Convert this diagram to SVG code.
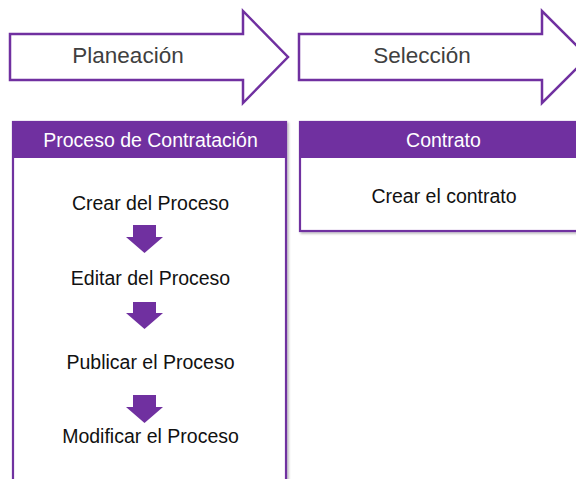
<svg xmlns="http://www.w3.org/2000/svg" width="576" height="479" viewBox="0 0 576 479">
<defs>
<style>
.phase{fill:#ffffff;stroke:#7030A0;stroke-width:2.5;stroke-linejoin:miter}
.phase-t{font-family:"Liberation Sans",Arial,sans-serif;font-size:22.5px;fill:#404040;text-anchor:middle}
.box{fill:#ffffff;stroke:#7030A0;stroke-width:2.2}
.hdr{fill:#7030A0}
.hdr-t{font-family:"Liberation Sans",Arial,sans-serif;font-size:19.5px;fill:#ffffff;text-anchor:middle}
.item{font-family:"Liberation Sans",Arial,sans-serif;font-size:19.5px;fill:#111111;text-anchor:middle}
.down{fill:#7030A0}
</style>
<filter id="sh" x="-10%" y="-10%" width="120%" height="120%">
<feDropShadow dx="1.5" dy="1.5" stdDeviation="1.2" flood-color="#000000" flood-opacity="0.3"/>
</filter>
</defs>
<g id="phase-planeacion">
<polygon class="phase" points="10,34 243,34 243,11 288,57 243,103 243,80 10,80"/>
<text class="phase-t" x="128" y="63">Planeación</text>
</g>
<g id="phase-seleccion">
<polygon class="phase" points="299,34 542,34 542,11 588,57 542,103 542,80 299,80"/>
<text class="phase-t" x="422" y="63">Selección</text>
</g>
<g id="box-proceso">
<rect class="box" x="13" y="122" width="273" height="370" filter="url(#sh)"/>
<rect class="hdr" x="12" y="121" width="275" height="37"/>
<text class="hdr-t" x="150.5" y="147">Proceso de Contratación</text>
</g>
<g id="item-crear">
<text class="item" x="150.5" y="210">Crear del Proceso</text>
</g>
<g id="item-editar">
<text class="item" x="150.5" y="285">Editar del Proceso</text>
</g>
<g id="item-publicar">
<text class="item" x="150.5" y="369">Publicar el Proceso</text>
</g>
<g id="item-modificar">
<text class="item" x="150.5" y="443">Modificar el Proceso</text>
</g>
<g id="box-contrato">
<rect class="box" x="300" y="122" width="290" height="109" filter="url(#sh)"/>
<rect class="hdr" x="299" y="121" width="292" height="37"/>
<text class="hdr-t" x="443.5" y="147">Contrato</text>
<text class="item" x="444" y="203">Crear el contrato</text>
</g>
<g id="connectors">
<polygon class="down" points="133,225 156,225 156,237 163,237 144.5,253 126,237 133,237"/>
<polygon class="down" points="133,302 156,302 156,313 163,313 144.5,329 126,313 133,313"/>
<polygon class="down" points="133,395 156,395 156,407 163,407 144.5,423 126,407 133,407"/>
</g>
</svg>
